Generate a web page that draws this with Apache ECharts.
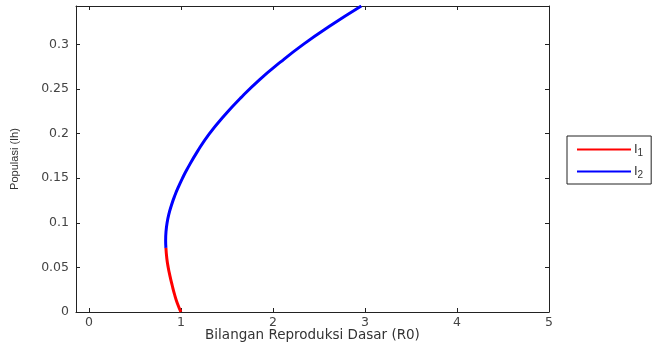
<!DOCTYPE html>
<html><head><meta charset="utf-8">
<script src="https://cdn.jsdelivr.net/npm/echarts@6/dist/echarts.min.js"></script>
<style>html,body{margin:0;padding:0;background:#fff}#c{width:654px;height:345px}</style>
</head><body><div id="c"></div>
<script>
const xTicks = [0, 1, 2, 3, 4, 5];
const yTicks = [0, 0.05, 0.1, 0.15, 0.2, 0.25, 0.3];
const r0I1 = [1.0, 0.96, 0.93, 0.905, 0.882, 0.862, 0.847, 0.837];
const ihI1 = [0, 0.01, 0.02, 0.03, 0.04, 0.05, 0.06, 0.072];
const r0I2 = [0.837, 0.834, 0.838, 0.85, 0.87, 0.898, 0.932, 0.972, 1.017, 1.067, 1.18, 1.31, 1.47, 1.65, 1.85, 2.08, 2.33, 2.61, 2.96];
const ihI2 = [0.072, 0.08, 0.09, 0.1, 0.11, 0.12, 0.13, 0.14, 0.15, 0.16, 0.18, 0.2, 0.22, 0.24, 0.26, 0.28, 0.30, 0.32, 0.343];
const names = ['I1', 'I2'];

const pair = (xs, ys) => xs.map((v, i) => [v, ys[i]]);
const font = 'Liberation Sans, Arial, sans-serif';
const wide = 'DejaVu Sans, Verdana, sans-serif';
const X_MIN = -0.14, X_MAX = 5, Y_MIN = 0, Y_MAX = 0.343;

function xAx(pos, labels) {
  return {
    type: 'value', position: pos, min: X_MIN, max: X_MAX,
    name: labels ? 'Bilangan Reproduksi Dasar (R0)' : '',
    nameLocation: 'middle', nameGap: 16, nameMoveOverlap: false,
    nameTextStyle: { color: '#333', fontSize: 13.5, fontFamily: wide },
    axisLine: { show: true, onZero: false, lineStyle: { color: '#222', width: 1 } },
    axisTick: { show: true, inside: true, length: 4, customValues: xTicks, lineStyle: { color: '#222' } },
    axisLabel: { show: labels, customValues: xTicks, color: '#444', fontSize: 12.5, fontFamily: wide, margin: 4 },
    splitLine: { show: false }
  };
}
function yAx(pos, labels) {
  return {
    type: 'value', position: pos, min: Y_MIN, max: Y_MAX,
    name: labels ? 'Populasi (Ih)' : '',
    nameLocation: 'middle', nameGap: 56, nameRotate: 90, nameMoveOverlap: false,
    nameTextStyle: { color: '#333', fontSize: 11, fontFamily: font },
    axisLine: { show: true, onZero: false, lineStyle: { color: '#222', width: 1 } },
    axisTick: { show: true, inside: true, length: 4, customValues: yTicks, lineStyle: { color: '#222' } },
    axisLabel: { show: labels, customValues: yTicks, color: '#444', fontSize: 12.5, fontFamily: wide, margin: 7 },
    splitLine: { show: false }
  };
}

const chart = echarts.init(document.getElementById('c'), null, { renderer: 'canvas' });
chart.setOption({
  animation: false,
  backgroundColor: '#fff',
  grid: { left: 76, right: 105, top: 6, bottom: 33, show: false, outerBoundsMode: 'none', containLabel: false },
  xAxis: [xAx('bottom', true), xAx('top', false)],
  yAxis: [yAx('left', true), yAx('right', false)],
  legend: {
    orient: 'vertical', left: 567, top: 136,
    padding: [5, 8, 4, 10], itemGap: 5,
    borderColor: '#222', borderWidth: 1,
    itemWidth: 54, itemHeight: 10,
    data: names.map(n => ({ name: n, icon: 'path://M0,4 L54,4 L54,6 L0,6 Z' })),
    formatter: n => '{m|I}{s|' + n.slice(1) + '}',
    textStyle: { color: '#333', fontSize: 13, fontFamily: font, lineHeight: 16,
      rich: {
        m: { fontSize: 13, color: '#333', fontFamily: font, lineHeight: 16, padding: [0, 0, 0, -2] },
        s: { fontSize: 10, padding: [7, 0, 0, 0], color: '#333', fontFamily: font, lineHeight: 16 }
      } }
  },
  series: [
    { name: names[0], type: 'line', data: pair(r0I1, ihI1), smooth: true, showSymbol: false,
      lineStyle: { color: '#ff0000', width: 3 }, itemStyle: { color: '#ff0000' }, z: 3 },
    { name: names[1], type: 'line', data: pair(r0I2, ihI2), smooth: true, showSymbol: false,
      lineStyle: { color: '#0000ff', width: 3 }, itemStyle: { color: '#0000ff' }, z: 3 }
  ]
});
</script></body></html>
